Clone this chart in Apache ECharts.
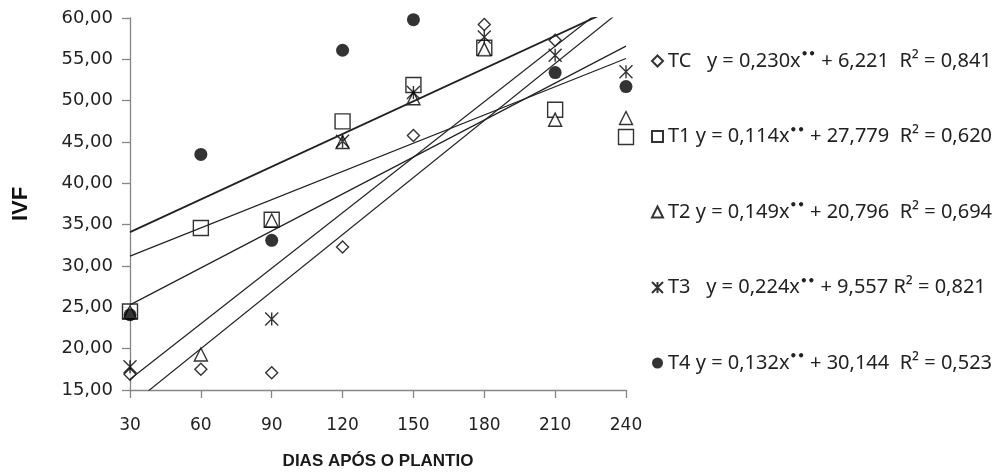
<!DOCTYPE html>
<html>
<head>
<meta charset="utf-8">
<script src="https://cdn.jsdelivr.net/npm/echarts@6/dist/echarts.min.js"></script>
<style>
  html, body { margin: 0; padding: 0; background: #fff; }
  #main { width: 998px; height: 475px; }
</style>
</head>
<body>
<div id="main"></div>
<script>
// dias após o plantio
const dias = [30, 60, 90, 120, 150, 180, 210, 240]
const yTicks = [15, 60, 5]

// IVF medido por tratamento (null = ponto não visível)
const tc = [16.9, 17.5, 17.1, 32.3, 45.8, 59.2, 57.3, null]
const t1 = [24.5, 34.6, 35.6, 47.5, 51.9, 56.4, 48.9, 45.6]
const t2 = [24.4, 19.3, 35.5, 45.0, 50.3, 56.2, 47.7, 47.9]
const t3 = [17.8, null, 23.6, 45.1, 51.0, 57.7, 55.5, 53.5]
const t4 = [24.1, 43.5, 33.1, 56.1, 59.8, null, 53.4, 51.7]

// retas de regressão: valor em 30 e em 240 dias
const retaInicio = [13.1, 31.2, 25.3, 16.3, 34.1]
const retaFim = [61.4, 55.1, 56.6, 63.3, 61.8]

const nomes = ['TC', 'T1', 'T2', 'T3', 'T4']
const equacoes = [
  ['TC   ', 'y = 0,230x', ' + 6,221  R² = 0,841'],
  ['T1 ', 'y = 0,114x', ' + 27,779  R² = 0,620'],
  ['T2 ', 'y = 0,149x', ' + 20,796  R² = 0,694'],
  ['T3   ', 'y = 0,224x', ' + 9,557 R² = 0,821'],
  ['T4 ', 'y = 0,132x', ' + 30,144  R² = 0,523']
]

const asterisco = 'path://M0,0L10,10M10,0L0,10M5,0L5,10'
const simbolos = ['diamond', 'rect', 'triangle', asterisco, 'circle']
const tamanhos = [12, 15, 13, 13, 13]
const valores = [tc, t1, t2, t3, t4]

const chart = echarts.init(document.getElementById('main'))

const series = []
// retas primeiro, pontos por cima
nomes.forEach((n, i) => {
  series.push({
    name: 'reta' + n,
    type: 'line',
    data: [[dias[0], retaInicio[i]], [dias[dias.length - 1], retaFim[i]]],
    symbol: 'none',
    silent: true,
    clip: true,
    lineStyle: { color: '#222', width: i === 4 ? 1.8 : 1.2 }
  })
})
nomes.forEach((n, i) => {
  series.push({
    name: n,
    type: 'scatter',
    symbol: simbolos[i],
    symbolSize: tamanhos[i],
    data: dias.map((d, k) => [d, valores[i][k]]).filter(p => p[1] !== null),
    itemStyle: i === 4
      ? { color: '#000' }
      : { color: i === 3 ? 'rgba(0,0,0,0)' : '#fff', borderColor: '#000', borderWidth: 1.4 }
  })
})

const option = {
  animation: false,
  textStyle: { fontFamily: 'DejaVu Sans' },
  grid: { left: 130, right: 372, top: 18, bottom: 84 },
  xAxis: {
    type: 'value',
    min: dias[0],
    max: dias[dias.length - 1],
    interval: 30,
    name: 'DIAS APÓS O PLANTIO',
    nameLocation: 'middle',
    nameGap: 63,
    nameTextStyle: { fontFamily: 'Liberation Sans', fontWeight: 'bold', fontSize: 17, color: '#1a1a1a' },
    axisLine: { lineStyle: { color: '#868686', width: 1.3 } },
    axisTick: { length: 8, lineStyle: { color: '#868686', width: 1.3 } },
    axisLabel: { fontSize: 17, color: '#222', margin: 27 },
    splitLine: { show: false }
  },
  yAxis: {
    type: 'value',
    min: yTicks[0],
    max: yTicks[1],
    interval: yTicks[2],
    name: 'IVF',
    nameLocation: 'middle',
    nameGap: 98,
    nameTextStyle: { fontFamily: 'Liberation Sans', fontWeight: 'bold', fontSize: 22, color: '#111' },
    axisLine: { show: true, lineStyle: { color: '#868686', width: 1.3 } },
    axisTick: { show: true, length: 8, lineStyle: { color: '#868686', width: 1.3 } },
    axisLabel: {
      fontSize: 18,
      color: '#222',
      margin: 17,
      formatter: v => v.toFixed(2).replace('.', ',')
    },
    splitLine: { show: false }
  },
  legend: {
    data: nomes,
    orient: 'vertical',
    left: 646,
    top: 44,
    itemGap: 53.5,
    itemWidth: 11,
    itemHeight: 11,
    selectedMode: false,
    formatter: name => {
      const e = equacoes[nomes.indexOf(name)]
      return '{t|' + e[0] + e[1] + '}{s|••}{t|' + e[2] + '}'
    },
    textStyle: {
      rich: {
        t: { fontFamily: 'Noto Sans', fontSize: 20, color: '#222', lineHeight: 24 },
        s: { fontFamily: 'DejaVu Sans', fontSize: 12, fontWeight: 'bold', color: '#222', verticalAlign: 'bottom', padding: [0, 0, 12, 0] }
      }
    }
  },
  series
}

chart.setOption(option)
</script>
</body>
</html>
